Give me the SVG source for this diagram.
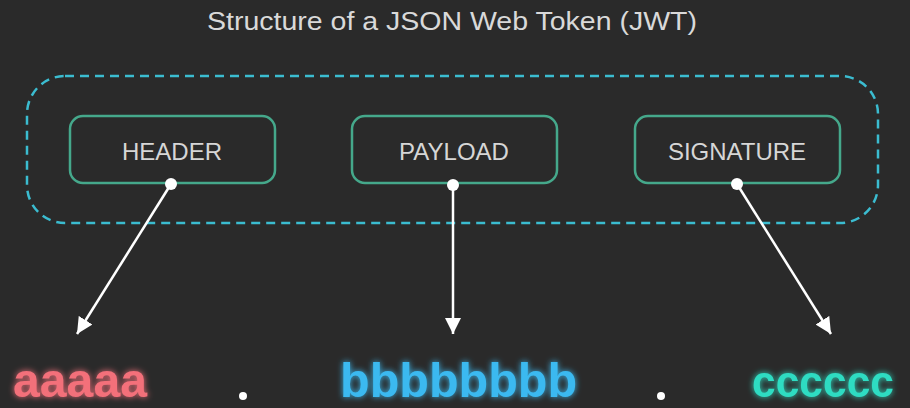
<svg xmlns="http://www.w3.org/2000/svg" width="910" height="408" viewBox="0 0 910 408">
  <style>
    .bg { fill: #2a2a2a; }
    .title { font-family: "Liberation Sans", Arial, sans-serif; font-size: 25px; fill: #d9d9d9; }
    .box { fill: #2a2a2a; stroke: #45a88b; stroke-width: 2.5; }
    .lbl { font-family: "Liberation Sans", Arial, sans-serif; font-size: 24px; fill: #d6d6d6; text-anchor: middle; }
    .group { fill: none; stroke: #3bbcd0; stroke-width: 2.5; stroke-dasharray: 9 6; }
    .conn { stroke: #ffffff; stroke-width: 2.5; fill: none; }
    .dot { fill: #ffffff; }
    .tok { font-family: "Liberation Sans", Arial, sans-serif; font-size: 48px; font-weight: bold; }
  </style>
  <defs>
    <marker id="arrow" viewBox="0 0 10 10" refX="10" refY="5" markerWidth="6.5" markerHeight="6.5" markerUnits="strokeWidth" orient="auto">
      <path d="M0,0 L10,5 L0,10 z" fill="#ffffff"/>
    </marker>
    <filter id="glow" x="-20%" y="-40%" width="140%" height="180%">
      <feGaussianBlur in="SourceGraphic" stdDeviation="3" result="b"/>
      <feMerge>
        <feMergeNode in="b"/>
        <feMergeNode in="SourceGraphic"/>
      </feMerge>
    </filter>
  </defs>
  <rect class="bg" x="0" y="0" width="910" height="408"/>
  <text class="title" x="207" y="30" textLength="490" lengthAdjust="spacingAndGlyphs">Structure of a JSON Web Token (JWT)</text>

  <g id="group-jwt">
    <rect class="group" x="27" y="76" width="851" height="147" rx="38" ry="38"/>
  </g>

  <g id="node-header">
    <rect class="box" x="70" y="116" width="205" height="67" rx="13" ry="13"/>
    <text class="lbl" x="172" y="160">HEADER</text>
  </g>
  <g id="node-payload">
    <rect class="box" x="352" y="116" width="205" height="67" rx="13" ry="13"/>
    <text class="lbl" x="454" y="160">PAYLOAD</text>
  </g>
  <g id="node-signature">
    <rect class="box" x="635" y="116" width="205" height="67" rx="13" ry="13"/>
    <text class="lbl" x="737" y="160">SIGNATURE</text>
  </g>

  <g id="connectors">
    <line class="conn" x1="171" y1="184" x2="77" y2="334" marker-end="url(#arrow)"/>
    <line class="conn" x1="453" y1="185" x2="453" y2="334" marker-end="url(#arrow)"/>
    <line class="conn" x1="737" y1="184" x2="831" y2="334" marker-end="url(#arrow)"/>
    <circle class="dot" cx="171" cy="184" r="6"/>
    <circle class="dot" cx="453" cy="185" r="6"/>
    <circle class="dot" cx="737" cy="184" r="6"/>
  </g>

  <g id="token">
    <text class="tok" x="13" y="397" fill="#f36f7a" filter="url(#glow)" textLength="134" lengthAdjust="spacingAndGlyphs">aaaaa</text>
    <circle class="dot" cx="243" cy="396" r="4"/>
    <text class="tok" x="340" y="397" fill="#3bb9f0" filter="url(#glow)" textLength="237" lengthAdjust="spacingAndGlyphs">bbbbbbbb</text>
    <circle class="dot" cx="661" cy="396" r="4"/>
    <text class="tok" x="752" y="397" fill="#2fdcc2" filter="url(#glow)" style="font-size:44px" textLength="142" lengthAdjust="spacingAndGlyphs">cccccc</text>
  </g>
</svg>
